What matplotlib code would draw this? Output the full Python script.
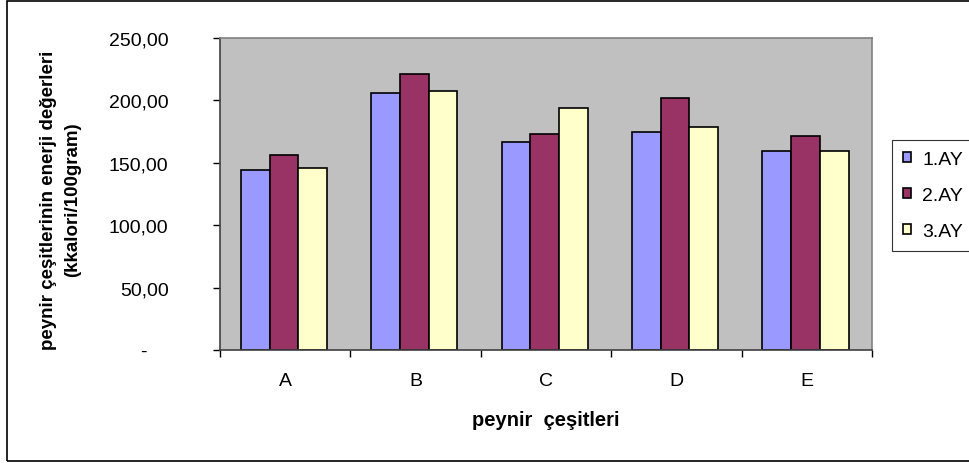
import matplotlib.pyplot as plt
import numpy as np
from matplotlib.patches import Rectangle

# Cheese types and monthly energy values (kcal / 100 g)
cesitler = ['A', 'B', 'C', 'D', 'E']
ay1 = [144.2, 205.9, 166.9, 174.4, 159.2]
ay2 = [156.5, 221.4, 172.8, 201.7, 171.5]
ay3 = [146.1, 207.5, 193.9, 179.0, 159.2]
seriler = ['1.AY', '2.AY', '3.AY']

y_ticks = [0, 50, 100, 150, 200, 250]
y_labels = ['-    ', '50,00', '100,00', '150,00', '200,00', '250,00']

renkler = ['#9999FF', '#993366', '#FFFFCC']

plt.rcParams['font.family'] = ['Liberation Sans', 'DejaVu Sans']

fig = plt.figure(figsize=(9.69, 4.64), dpi=100)
ax = fig.add_axes([220/969, 113/464, 652/969, 312/464])
ax.set_facecolor('#C0C0C0')

x = np.arange(len(cesitler))
w = 0.22
for i, (vals, c, lab) in enumerate(zip([ay1, ay2, ay3], renkler, seriler)):
    ax.bar(x + (i - 1) * w - 0.01, vals, width=w, color=c, edgecolor='black',
           linewidth=1.2, label=lab, zorder=2)

ax.set_xlim(-0.5, len(cesitler) - 0.5)
ax.set_ylim(0, 250)

# tick marks on category boundaries, labels on centres
ax.set_xticks(np.arange(-0.5, len(cesitler), 1.0))
ax.set_xticklabels([])
ax.set_xticks(x, minor=True)
ax.set_xticklabels(cesitler, minor=True, fontsize=14)
ax.tick_params(axis='x', which='major', direction='out', length=5, width=1, color='black')
ax.tick_params(axis='x', which='minor', length=0, pad=16)

ax.set_yticks(y_ticks)
ax.set_yticklabels(y_labels, fontsize=14)
ax.tick_params(axis='y', direction='out', length=5, width=1, color='black', pad=32)

ax.spines['left'].set_color('#404040')
ax.spines['bottom'].set_color('#404040')
ax.spines['top'].set_color('#808080')
ax.spines['right'].set_color('#808080')
for s in ax.spines.values():
    s.set_linewidth(1.2)

fig.text(546/969, 1 - 421/464, 'peynir  çeşitleri', ha='center', va='center',
         fontsize=14.5, fontweight='bold')
fig.text(61/969, 1 - 200/464, 'peynir çeşitlerinin enerji değerleri\n(kkalori/100gram)',
         rotation=90, ha='center', va='center', fontsize=13.5, fontweight='bold',
         linespacing=1.55)

leg = fig.legend(loc='upper left', bbox_to_anchor=(892/969, 1 - 141/464),
                 fontsize=14, frameon=True, fancybox=False, handlelength=0.45,
                 handleheight=0.45, handletextpad=0.55, labelspacing=0.98,
                 borderpad=0.55, borderaxespad=0)
leg.get_frame().set_edgecolor('black')
leg.get_frame().set_linewidth(0.8)

# outer chart border
fig.patches.append(Rectangle((7/969, 2/464), 1.0, 460/464, transform=fig.transFigure,
                             fill=False, edgecolor='black', linewidth=1.2, clip_on=False))

fig.savefig('out.png', dpi=100)
